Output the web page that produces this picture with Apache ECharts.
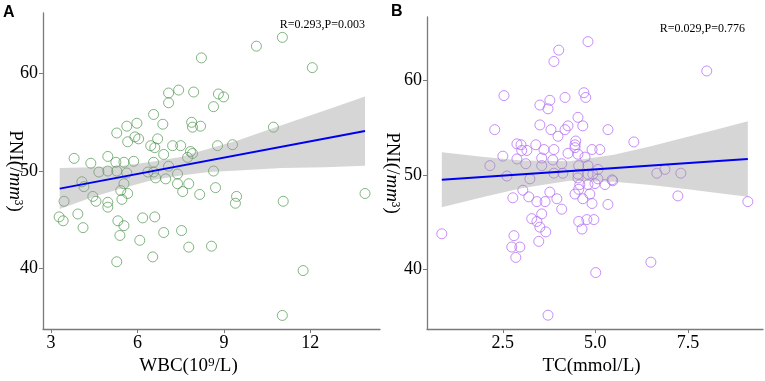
<!DOCTYPE html>
<html>
<head>
<meta charset="utf-8">
<script src="https://cdn.jsdelivr.net/npm/echarts@6/dist/echarts.min.js"></script>
<style>
  html, body { margin: 0; padding: 0; background: #fff; }
  #container { width: 765px; height: 381px; }
</style>
</head>
<body>
<div id="container"></div>
<script>
// panel A : WBC vs PNI
var wbc = [8.22, 7.08, 7.43, 7.95, 7.08, 6.56, 6.88, 7.88, 7.91, 8.19,
    5.28, 5.63, 5.98, 5.66, 5.91, 6.04, 6.70, 6.46, 6.60, 3.80,
    4.38, 4.97, 5.25, 5.53, 5.87, 4.66, 4.97, 5.28, 5.63, 6.91,
    7.22, 7.50, 7.84, 7.91, 6.56, 6.56, 6.36, 7.08, 7.39, 6.98,
    6.63, 4.07, 7.39, 7.78, 11.03, 10.13, 12.07, 8.81, 8.99, 8.64,
    10.72, 8.78, 9.30, 7.74, 8.64, 8.71, 4.14, 3.45, 4.45, 4.56,
    4.97, 4.97, 5.42, 5.46, 5.66, 5.53, 3.28, 3.42, 3.93, 4.11,
    5.32, 5.53, 5.39, 6.18, 6.60, 6.08, 6.91, 5.28, 6.53, 7.57,
    8.16, 7.53, 7.78, 9.44, 9.40, 11.06, 13.9, 8.57, 11.75, 11.03];
var pniA = [61.6, 58.0, 58.3, 58.1, 57.0, 55.8, 54.8, 55.0, 54.5, 54.6,
    53.9, 54.6, 54.9, 53.0, 53.5, 53.3, 53.3, 52.6, 52.4, 51.3,
    50.8, 51.5, 50.9, 50.9, 51.0, 49.9, 50.0, 50.0, 49.8, 51.7,
    52.6, 52.6, 52.0, 51.8, 50.9, 49.9, 49.9, 50.5, 49.7, 49.2,
    49.3, 48.9, 48.7, 48.7, 63.7, 62.8, 60.6, 57.9, 57.6, 56.6,
    54.5, 52.6, 52.7, 51.4, 50.0, 48.3, 48.4, 46.9, 47.4, 46.9,
    46.8, 46.3, 48.0, 47.1, 47.7, 48.7, 45.3, 44.9, 45.6, 44.2,
    44.9, 44.4, 43.4, 45.2, 45.3, 42.9, 43.7, 40.7, 41.2, 47.9,
    47.6, 43.9, 42.2, 47.4, 46.7, 46.9, 47.7, 42.3, 39.8, 35.2];
var fitXA = [3.3, 13.9];
var fitYA = [48.2, 54.1];
var bandXA = [3.3, 4.5, 5.5, 6.5, 7.5, 8.5, 9.5, 11, 12.5, 13.9];
var bandUpA = [50.3, 50.4, 50.55, 50.95, 51.45, 52.3, 53.15, 54.7, 56.2, 57.65];
var bandLoA = [46.1, 47.4, 48.25, 49.05, 49.55, 49.9, 50.05, 50.3, 50.4, 50.55];
var xTicksA = [3, 6, 9, 12];

// panel B : TC vs PNI
var tc = [4.01, 3.88, 2.53, 4.18, 3.77, 3.50, 3.72, 4.53, 3.50, 2.28,
    3.80, 4.26, 4.18, 3.99, 4.47, 2.88, 2.99, 3.01, 3.15, 3.39,
    3.61, 3.88, 4.26, 4.45, 2.50, 2.88, 3.12, 3.55, 3.85, 4.09,
    4.55, 2.15, 2.61, 3.23, 3.88, 4.12, 3.55, 4.53, 4.80, 8.01,
    4.69, 4.74, 4.66, 5.34, 4.45, 6.04, 4.53, 4.91, 5.12, 4.72,
    4.80, 5.07, 6.66, 6.88, 7.31, 4.53, 4.80, 4.93, 5.07, 5.45,
    4.58, 4.80, 5.26, 0.85, 3.04, 2.77, 3.20, 3.42, 3.64, 3.77,
    3.96, 4.09, 4.45, 4.55, 3.28, 3.42, 3.55, 3.50, 3.66, 3.47,
    4.55, 2.80, 2.74, 2.96, 2.85, 3.72, 4.85, 4.66, 4.99, 5.47,
    4.91, 5.34, 7.23, 9.12, 4.77, 4.96, 4.64, 6.50, 5.01];
var pniB = [63.2, 62.0, 58.4, 58.2, 57.9, 57.4, 57.0, 56.1, 55.3, 54.8,
    54.8, 55.2, 54.8, 54.1, 53.6, 53.3, 53.2, 52.6, 52.6, 53.2,
    52.7, 52.7, 52.3, 52.9, 52.0, 51.7, 51.2, 51.8, 51.6, 51.2,
    51.0, 51.0, 49.9, 49.6, 50.2, 50.2, 51.0, 49.7, 64.1, 61.0,
    58.7, 58.2, 55.2, 54.8, 53.2, 53.5, 52.2, 52.7, 52.7, 51.9,
    51.0, 50.6, 50.2, 50.6, 50.2, 50.1, 50.1, 50.1, 49.6, 49.5,
    49.0, 49.0, 49.0, 43.8, 48.4, 47.6, 47.7, 47.2, 47.2, 48.2,
    47.5, 46.4, 48.0, 48.5, 45.4, 45.1, 45.9, 44.5, 44.0, 43.0,
    45.1, 43.6, 42.4, 42.4, 41.3, 35.2, 48.0, 47.5, 49.1, 49.4,
    47.0, 46.9, 47.8, 47.2, 45.3, 45.3, 44.3, 40.8, 39.7];
var fitXB = [0.85, 9.12];
var fitYB = [49.5, 51.7];
var bandXB = [0.85, 2, 3, 4.3, 5.5, 6.5, 7.5, 8.3, 9.12];
var bandUpB = [52.4, 51.9, 51.55, 51.45, 52.15, 53.05, 54.05, 54.85, 55.7];
var bandLoB = [46.6, 47.7, 48.6, 49.4, 49.3, 48.95, 48.5, 48.1, 47.7];
var xTicksB = [2.5, 5, 7.5];

var yTicks = [40, 50, 60];

function zip(a, b) {
    return a.map(function (v, i) { return [v, b[i]]; });
}

var serif = 'Liberation Serif';
var axisGray = '#7a7a7a';

function xAxisOf(idx, min, max, ticks, name, fmt, nameShift) {
    return {
        type: 'value', gridIndex: idx, min: min, max: max,
        splitLine: { show: false },
        axisLine: { lineStyle: { color: axisGray, width: 1.3 } },
        axisTick: { customValues: ticks, length: 4, lineStyle: { color: axisGray } },
        axisLabel: { customValues: ticks, formatter: fmt, color: '#000', fontFamily: serif, fontSize: 18, margin: 5 },
        name: name, nameLocation: 'middle', nameGap: 27,
        nameTextStyle: { color: '#000', fontFamily: serif, fontSize: 19, padding: [0, nameShift, 0, 0] }
    };
}

function yAxisOf(idx, min, max, gap) {
    return {
        type: 'value', gridIndex: idx, min: min, max: max,
        splitLine: { show: false },
        axisLine: { lineStyle: { color: axisGray, width: 1.3 } },
        axisTick: { customValues: yTicks, length: 4, lineStyle: { color: axisGray } },
        axisLabel: { customValues: yTicks, color: '#000', fontFamily: serif, fontSize: 18, margin: 5 },
        name: 'PNI(/{i|mm}³)', nameLocation: 'middle', nameRotate: -90, nameGap: gap,
        nameMoveOverlap: false,
        nameTextStyle: {
            color: '#000', fontFamily: serif, fontSize: 19,
            rich: { i: { fontFamily: serif, fontStyle: 'italic', fontSize: 19, color: '#000' } }
        }
    };
}

function bandSeries(idx, bx, up, lo) {
    return {
        type: 'custom', xAxisIndex: idx, yAxisIndex: idx, silent: true, z: 3,
        data: bx.map(function (x, i) { return [x, up[i], lo[i]]; }),
        renderItem: function (params, api) {
            if (params.dataIndex !== 0) return;
            var pts = [];
            for (var i = 0; i < bx.length; i++) pts.push(api.coord([bx[i], up[i]]));
            for (var j = bx.length - 1; j >= 0; j--) pts.push(api.coord([bx[j], lo[j]]));
            return { type: 'polygon', shape: { points: pts }, style: { fill: 'rgba(153,153,153,0.4)' } };
        }
    };
}

function scatterSeries(idx, xs, ys, col) {
    return {
        type: 'scatter', xAxisIndex: idx, yAxisIndex: idx, z: 2,
        symbol: 'circle', symbolSize: 10,
        itemStyle: { color: 'rgba(0,0,0,0)', borderColor: col, borderWidth: 1 },
        data: zip(xs, ys)
    };
}

function fitSeries(idx, xs, ys) {
    return {
        type: 'line', xAxisIndex: idx, yAxisIndex: idx, z: 4,
        symbol: 'none', silent: true,
        lineStyle: { color: '#0000f0', width: 2 },
        data: zip(xs, ys)
    };
}

var myChart = echarts.init(document.getElementById('container'));
var option = {
    animation: false,
    backgroundColor: '#fff',
    grid: [
        { left: 43, top: 13, width: 337, height: 318 },
        { left: 427, top: 17, width: 336, height: 318 }
    ],
    xAxis: [
        xAxisOf(0, 2.72, 14.42, xTicksA, 'WBC(10⁹/L)', function (v) { return String(v); }, 46),
        xAxisOf(1, 0.45, 9.53, xTicksB, 'TC(mmol/L)', function (v) { return v.toFixed(1); }, 7)
    ],
    yAxis: [
        yAxisOf(0, 33.8, 66.2, 19),
        yAxisOf(1, 33.73, 66.7, 26)
    ],
    graphic: [
        { type: 'text', left: 3, top: 5, style: { text: 'A', font: 'bold 16px Liberation Sans', fill: '#000' } },
        { type: 'text', left: 391, top: 4, style: { text: 'B', font: 'bold 16px Liberation Sans', fill: '#000' } },
        { type: 'text', right: 400, top: 19, style: { text: 'R=0.293,P=0.003', font: '12px Liberation Serif', fill: '#000' } },
        { type: 'text', right: 20, top: 23, style: { text: 'R=0.029,P=0.776', font: '12px Liberation Serif', fill: '#000' } }
    ],
    series: [
        scatterSeries(0, wbc, pniA, 'rgba(60,140,60,0.8)'),
        bandSeries(0, bandXA, bandUpA, bandLoA),
        fitSeries(0, fitXA, fitYA),
        scatterSeries(1, tc, pniB, 'rgba(176,100,245,0.9)'),
        bandSeries(1, bandXB, bandUpB, bandLoB),
        fitSeries(1, fitXB, fitYB)
    ]
};
myChart.setOption(option);
</script>
</body>
</html>
